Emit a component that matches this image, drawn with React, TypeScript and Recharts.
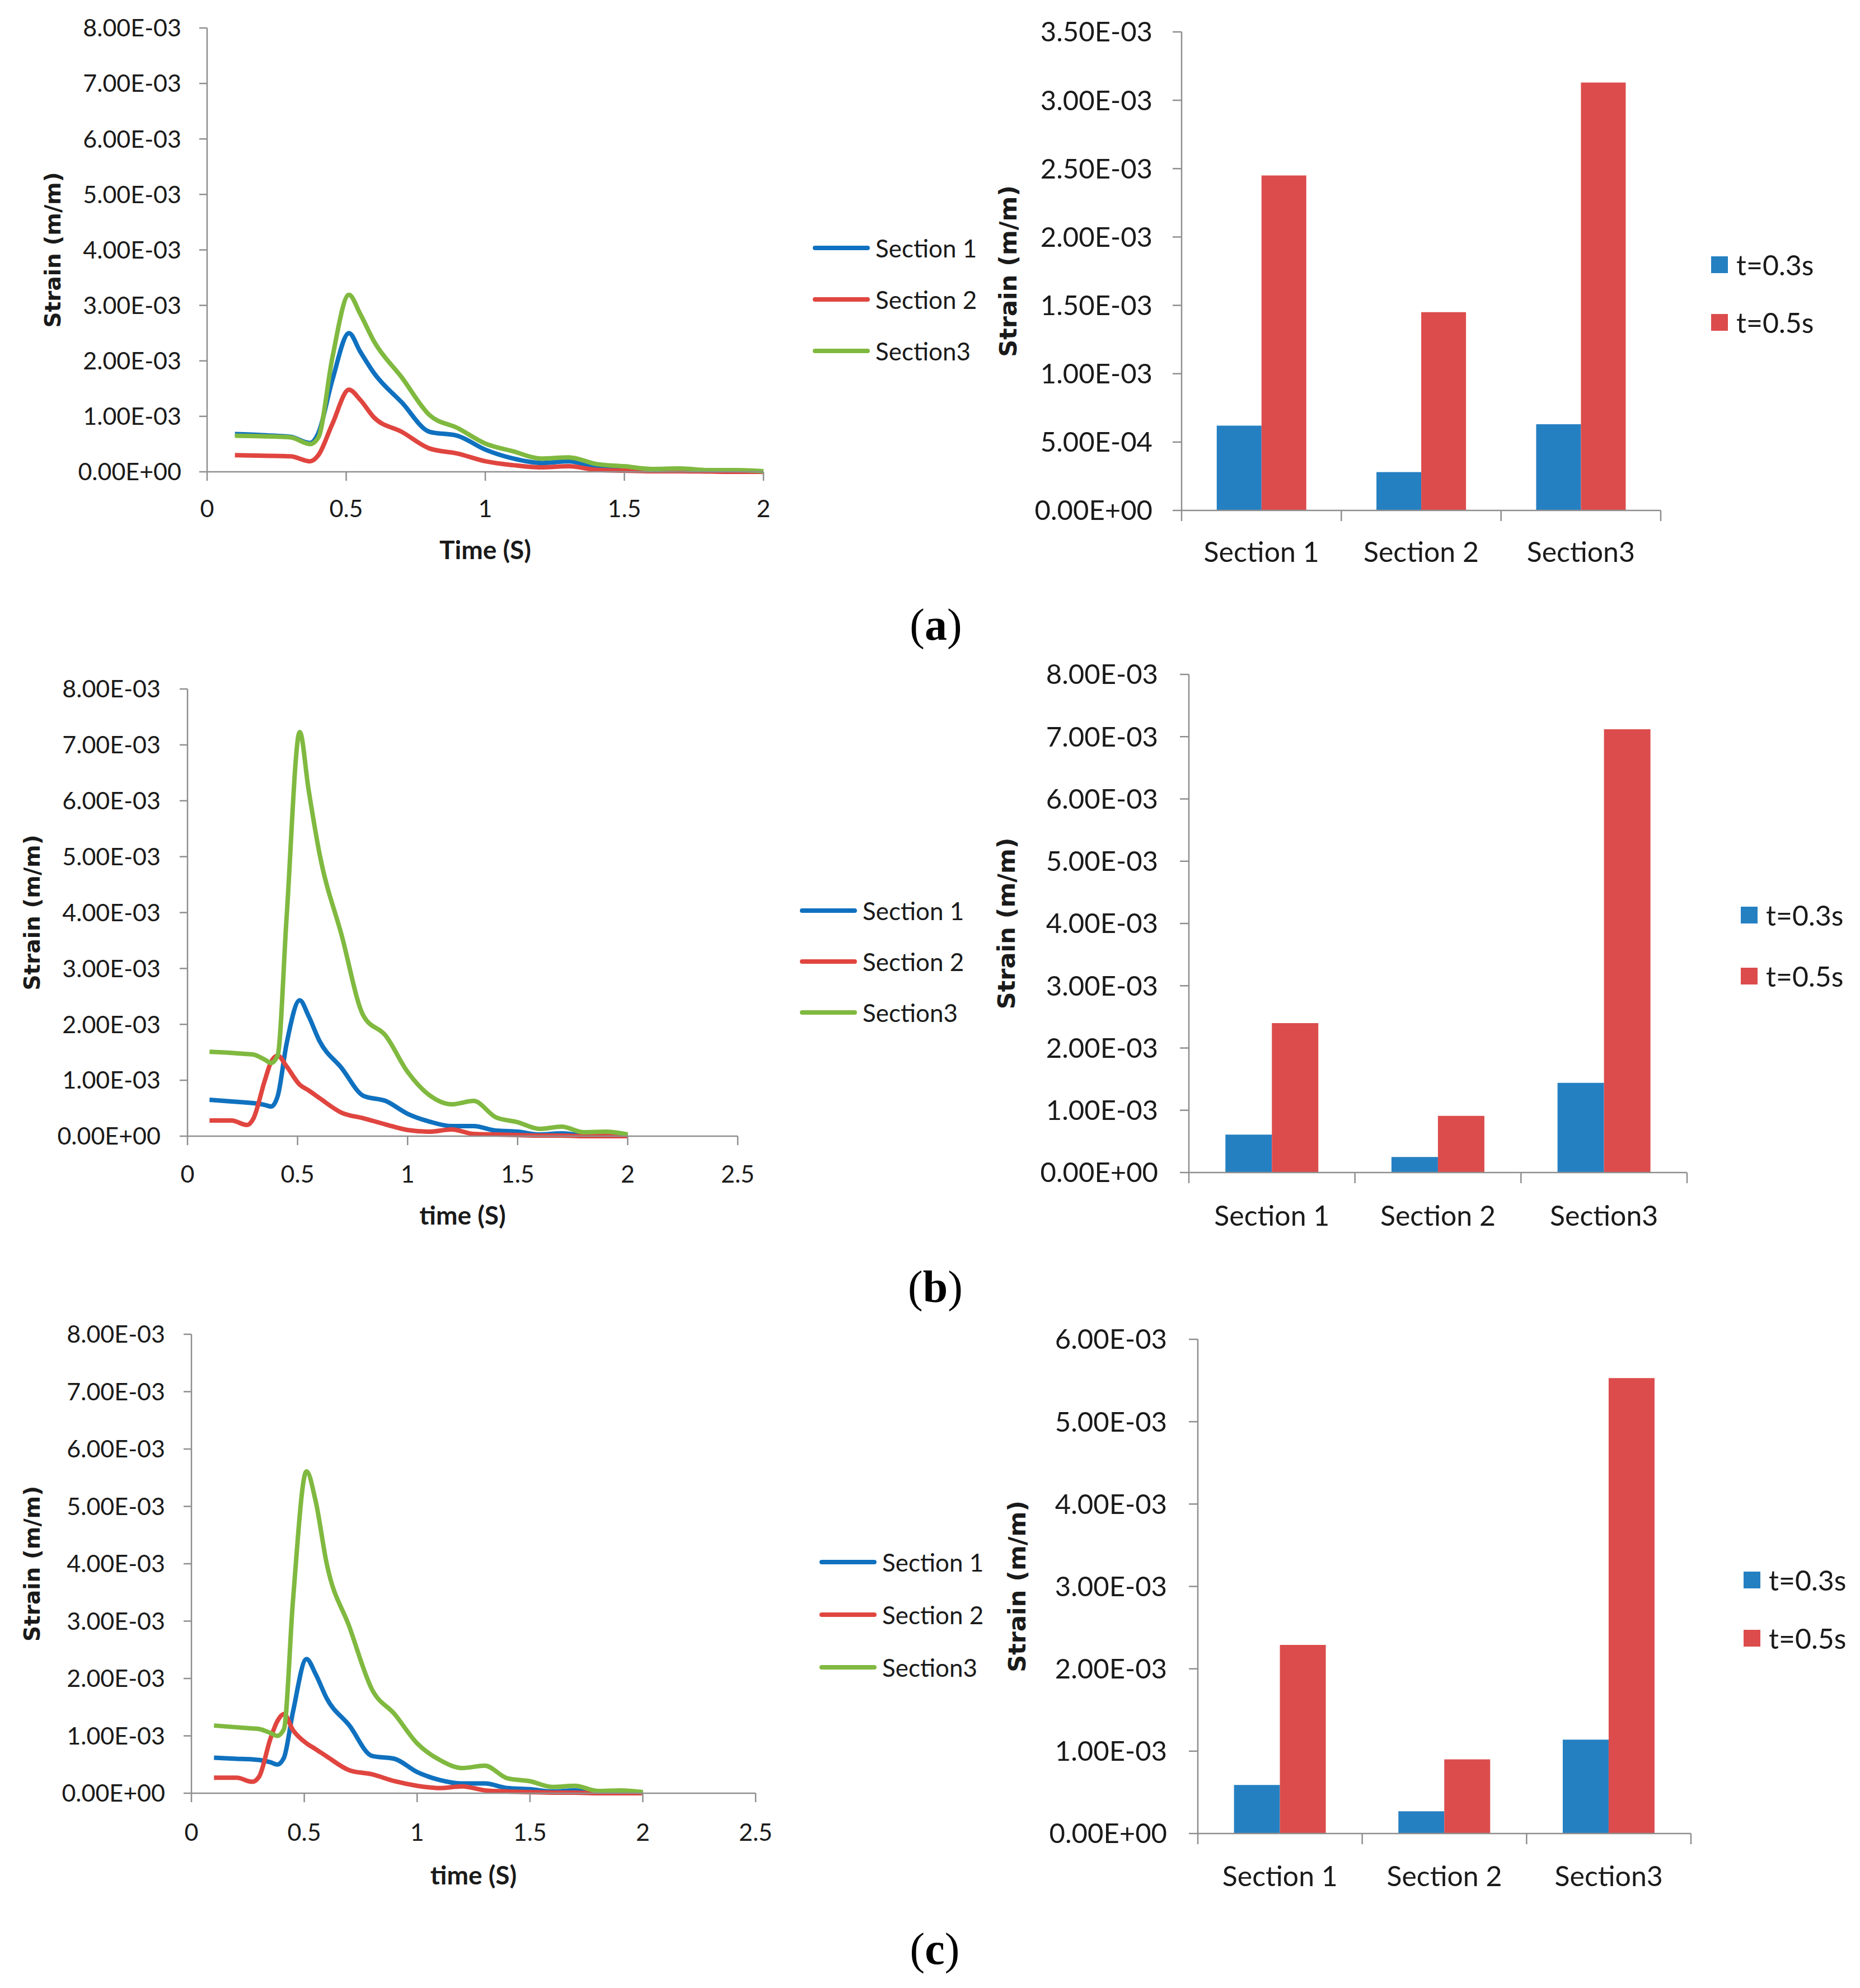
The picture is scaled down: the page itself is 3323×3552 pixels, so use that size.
import React from "react";
import { LineChart, Line, BarChart, Bar, XAxis, YAxis, Legend } from "recharts";

// strain values below are in units of 1e-3 m/m (axis labels convert back)

// (a) time history
const timeA = [0.1, 0.2, 0.3, 0.37, 0.4, 0.45, 0.51, 0.55, 0.6, 0.7, 0.8, 0.9, 1.0, 1.1, 1.2, 1.3, 1.4, 1.5, 1.6, 1.7, 1.8, 1.9, 2.0];
const sec1A = [0.68, 0.66, 0.63, 0.52, 0.7, 1.65, 2.5, 2.17, 1.78, 1.25, 0.72, 0.65, 0.4, 0.24, 0.16, 0.19, 0.08, 0.05, 0.03, 0.03, 0.015, 0.01, 0.01];
const sec2A = [0.3, 0.29, 0.28, 0.19, 0.3, 0.86, 1.48, 1.3, 0.98, 0.72, 0.42, 0.33, 0.19, 0.12, 0.08, 0.1, 0.035, 0.02, 0.01, 0.01, 0.005, 0, 0];
const sec3A = [0.65, 0.64, 0.62, 0.5, 0.62, 2.05, 3.19, 2.85, 2.35, 1.7, 1.02, 0.79, 0.51, 0.37, 0.24, 0.26, 0.14, 0.1, 0.05, 0.06, 0.03, 0.03, 0.01];

// (b) and (c) time histories share the same sampling
const timeBC = [0.1, 0.2, 0.27, 0.3, 0.35, 0.38, 0.41, 0.45, 0.51, 0.55, 0.6, 0.7, 0.8, 0.9, 1.0, 1.1, 1.2, 1.3, 1.4, 1.5, 1.6, 1.7, 1.8, 1.9, 2.0];
const sec1B = [0.65, 0.62, 0.6, 0.59, 0.56, 0.53, 0.72, 1.65, 2.43, 2.15, 1.7, 1.22, 0.72, 0.63, 0.4, 0.26, 0.18, 0.18, 0.1, 0.08, 0.03, 0.05, 0.015, 0.01, 0];
const sec2B = [0.28, 0.28, 0.2, 0.32, 0.98, 1.33, 1.44, 1.25, 0.92, 0.82, 0.68, 0.42, 0.32, 0.21, 0.11, 0.08, 0.12, 0.04, 0.03, 0.02, 0.01, 0.01, 0, 0, 0];
const sec3B = [1.51, 1.49, 1.47, 1.46, 1.37, 1.31, 1.45, 3.9, 7.23, 6.2, 5.05, 3.6, 2.15, 1.8, 1.15, 0.73, 0.57, 0.63, 0.34, 0.25, 0.13, 0.17, 0.07, 0.08, 0.03];

const sec1C = [0.62, 0.6, 0.59, 0.58, 0.54, 0.5, 0.62, 1.42, 2.34, 2.08, 1.65, 1.18, 0.65, 0.6, 0.37, 0.23, 0.17, 0.17, 0.09, 0.07, 0.03, 0.05, 0.015, 0.01, 0.005];
const sec2C = [0.27, 0.27, 0.2, 0.29, 0.95, 1.25, 1.38, 1.1, 0.87, 0.77, 0.64, 0.4, 0.33, 0.21, 0.13, 0.09, 0.12, 0.05, 0.03, 0.02, 0.01, 0.01, 0, 0, 0];
const sec3C = [1.18, 1.15, 1.13, 1.12, 1.05, 1.0, 1.12, 3.36, 5.61, 5.1, 3.99, 2.9, 1.81, 1.38, 0.87, 0.58, 0.44, 0.48, 0.26, 0.21, 0.11, 0.13, 0.04, 0.05, 0.02];

// bar charts
const categories = ["Section 1", "Section 2", "Section3"];
const t03A = [0.62, 0.28, 0.63];
const t05A = [2.45, 1.45, 3.13];
const t03B = [0.61, 0.25, 1.44];
const t05B = [2.4, 0.91, 7.12];
const t03C = [0.59, 0.27, 1.14];
const t05C = [2.29, 0.9, 5.53];

// ticks
const timeTicksA = [0, 0.5, 1, 1.5, 2];
const timeTicksBC = [0, 0.5, 1, 1.5, 2, 2.5];
const strainTicks8 = [0, 1, 2, 3, 4, 5, 6, 7, 8];
const strainTicks35 = [0, 0.5, 1, 1.5, 2, 2.5, 3, 3.5];
const strainTicks6 = [0, 1, 2, 3, 4, 5, 6];

const FONT = "Lato, 'Open Sans', sans-serif";
const TITLE_FONT = "'DejaVu Sans', Verdana, sans-serif";
const TEXT = "#1a1a1a";
const AXIS = "#8e8e8e";
const LINE_BLUE = "#0f71bf";
const LINE_RED = "#e0453f";
const LINE_GREEN = "#80b940";
const BAR_BLUE = "#2580c2";
const BAR_RED = "#dc4c4c";

const LINE_XAXIS_H = 170;
const BAR_XAXIS_H = 110;
const LINE_TICK_FS = 43;
const BAR_TICK_FS = 49;

type Box = { x: number; y: number; w: number; h: number };
type Plot = { l: number; t: number; r: number; b: number };
type LegendPos = { left: number; top: number; row: number };

// 1e-3 units -> "8.00E-03"
const sci = (v: number) => {
  const [m, e] = (v / 1000).toExponential(2).split("e");
  const n = Number(e);
  return `${m}E${n < 0 ? "-" : "+"}${String(Math.abs(n)).padStart(2, "0")}`;
};

const chartMargin = (box: Box, plot: Plot, xAxisH: number) => ({
  top: plot.t - box.y,
  right: box.x + box.w - plot.r,
  bottom: box.y + box.h - plot.b - xAxisH,
  left: 0,
});

function SeriesLegend({ payload, kind, row, fontSize }: any) {
  return (
    <div style={{ fontFamily: FONT, fontSize, color: TEXT }}>
      {(payload || []).map((p: any) => (
        <div key={p.value} style={{ display: "flex", alignItems: "center", height: row, whiteSpace: "nowrap" }}>
          {kind === "line" ? (
            <span style={{ flexShrink: 0, width: 102, height: 8, borderRadius: 4, background: p.color, marginRight: 10 }} />
          ) : (
            <span style={{ flexShrink: 0, width: 30, height: 30, background: p.color, marginRight: 15 }} />
          )}
          <span>{p.value}</span>
        </div>
      ))}
    </div>
  );
}

function CategoryTick(props: any) {
  const { x, y, payload, index, visibleTicksCount, bandHalf, labelGap } = props;
  const half = payload && payload.offset > 0 ? payload.offset : bandHalf;
  return (
    <g>
      <line x1={x - half} y1={y} x2={x - half} y2={y + 19} stroke={AXIS} strokeWidth={2.5} />
      {index === visibleTicksCount - 1 && (
        <line x1={x + half} y1={y} x2={x + half} y2={y + 19} stroke={AXIS} strokeWidth={2.5} />
      )}
      <text x={x} y={y + labelGap} dy="0.36em" textAnchor="middle" fill={TEXT} fontSize={50} fontFamily={FONT}>
        {payload.value}
      </text>
    </g>
  );
}

interface LinePanelProps {
  box: Box;
  plot: Plot;
  time: number[];
  s1: number[];
  s2: number[];
  s3: number[];
  xMax: number;
  xTicks: number[];
  xTitle: string;
  xTitleY: number;
  yTitleX: number;
  yTickMargin: number;
  xTickMargin: number;
  legend: LegendPos;
}

function LinePanel(p: LinePanelProps) {
  const rows = p.time.map((t, i) => ({ t, s1: p.s1[i], s2: p.s2[i], s3: p.s3[i] }));
  return (
    <div style={{ position: "absolute", left: p.box.x, top: p.box.y }}>
      <LineChart width={p.box.w} height={p.box.h} data={rows} margin={chartMargin(p.box, p.plot, LINE_XAXIS_H)}>
        <XAxis
          dataKey="t"
          type="number"
          domain={[0, p.xMax]}
          ticks={p.xTicks}
          interval={0}
          height={LINE_XAXIS_H}
          axisLine={{ stroke: AXIS, strokeWidth: 2.5 }}
          tickLine={{ stroke: AXIS, strokeWidth: 2.5 }}
          tickSize={16}
          tickMargin={p.xTickMargin}
          tick={{ fill: TEXT, fontSize: LINE_TICK_FS, fontFamily: FONT }}
          label={{
            value: p.xTitle,
            position: "insideTop",
            offset: p.xTitleY - p.plot.b - 16,
            style: { fill: TEXT, fontSize: 46, fontWeight: 700, fontFamily: FONT, textAnchor: "middle" },
          }}
        />
        <YAxis
          type="number"
          domain={[0, 8]}
          ticks={strainTicks8}
          interval={0}
          width={p.plot.l - p.box.x}
          axisLine={{ stroke: AXIS, strokeWidth: 2.5 }}
          tickLine={{ stroke: AXIS, strokeWidth: 2.5 }}
          tickSize={14}
          tickMargin={p.yTickMargin}
          tickFormatter={sci}
          tick={{ fill: TEXT, fontSize: LINE_TICK_FS, fontFamily: FONT }}
          label={{
            value: "Strain (m/m)",
            angle: -90,
            position: "insideLeft",
            offset: p.yTitleX - p.box.x,
            style: { fill: TEXT, fontSize: 39, fontWeight: 700, fontFamily: TITLE_FONT, textAnchor: "middle" },
          }}
        />
        <Legend
          layout="vertical"
          align="center"
          verticalAlign="middle"
          wrapperStyle={{ left: p.legend.left - p.box.x, top: p.legend.top - p.box.y, width: 340, height: "auto" }}
          content={(lp: any) => <SeriesLegend {...lp} kind="line" row={p.legend.row} fontSize={44} />}
        />
        <Line type="monotone" dataKey="s1" name="Section 1" stroke={LINE_BLUE} strokeWidth={8} dot={false} activeDot={false} isAnimationActive={false} />
        <Line type="monotone" dataKey="s2" name="Section 2" stroke={LINE_RED} strokeWidth={8} dot={false} activeDot={false} isAnimationActive={false} />
        <Line type="monotone" dataKey="s3" name="Section3" stroke={LINE_GREEN} strokeWidth={8} dot={false} activeDot={false} isAnimationActive={false} />
      </LineChart>
    </div>
  );
}

interface BarPanelProps {
  box: Box;
  plot: Plot;
  early: number[];
  late: number[];
  yMax: number;
  yTicks: number[];
  yTitleX: number;
  yTickMargin: number;
  labelGap: number;
  legend: LegendPos;
}

function BarPanel(p: BarPanelProps) {
  const rows = categories.map((name, i) => ({ name, early: p.early[i], late: p.late[i] }));
  return (
    <div style={{ position: "absolute", left: p.box.x, top: p.box.y }}>
      <BarChart
        width={p.box.w}
        height={p.box.h}
        data={rows}
        margin={chartMargin(p.box, p.plot, BAR_XAXIS_H)}
        barCategoryGap="22%"
        barGap={0}
      >
        <XAxis
          dataKey="name"
          interval={0}
          height={BAR_XAXIS_H}
          axisLine={{ stroke: AXIS, strokeWidth: 2.5 }}
          tickLine={false}
          tickSize={0}
          tickMargin={0}
          tick={<CategoryTick bandHalf={(p.plot.r - p.plot.l) / (2 * categories.length)} labelGap={p.labelGap} />}
        />
        <YAxis
          type="number"
          domain={[0, p.yMax]}
          ticks={p.yTicks}
          interval={0}
          width={p.plot.l - p.box.x}
          axisLine={{ stroke: AXIS, strokeWidth: 2.5 }}
          tickLine={{ stroke: AXIS, strokeWidth: 2.5 }}
          tickSize={16}
          tickMargin={p.yTickMargin}
          tickFormatter={sci}
          tick={{ fill: TEXT, fontSize: BAR_TICK_FS, fontFamily: FONT }}
          label={{
            value: "Strain (m/m)",
            angle: -90,
            position: "insideLeft",
            offset: p.yTitleX - p.box.x,
            style: { fill: TEXT, fontSize: 43, fontWeight: 700, fontFamily: TITLE_FONT, textAnchor: "middle" },
          }}
        />
        <Legend
          layout="vertical"
          align="center"
          verticalAlign="middle"
          wrapperStyle={{ left: p.legend.left - p.box.x, top: p.legend.top - p.box.y, width: 240, height: "auto" }}
          content={(lp: any) => <SeriesLegend {...lp} kind="bar" row={p.legend.row} fontSize={50} />}
        />
        <Bar dataKey="early" name="t=0.3s" fill={BAR_BLUE} isAnimationActive={false} />
        <Bar dataKey="late" name="t=0.5s" fill={BAR_RED} isAnimationActive={false} />
      </BarChart>
    </div>
  );
}

function PanelTag({ letter, cx, cy }: { letter: string; cx: number; cy: number }) {
  return (
    <div
      style={{
        position: "absolute",
        left: cx,
        top: cy - 48,
        transform: "translateX(-50%)",
        fontFamily: "'Liberation Serif', 'Times New Roman', serif",
        fontSize: 80,
        lineHeight: 1,
        color: "#000",
        whiteSpace: "nowrap",
      }}
    >
      (<b>{letter}</b>)
    </div>
  );
}

export default function App() {
  return (
    <div style={{ position: "absolute", left: 0, top: 0, width: 3323, height: 3552, background: "#fff" }}>
      <LinePanel
        box={{ x: 0, y: 0, w: 1760, h: 1080 }}
        plot={{ l: 370, t: 50, r: 1364, b: 843 }}
        time={timeA}
        s1={sec1A}
        s2={sec2A}
        s3={sec3A}
        xMax={2}
        xTicks={timeTicksA}
        xTitle="Time (S)"
        xTitleY={982}
        yTitleX={94}
        yTickMargin={32}
        xTickMargin={34}
        legend={{ left: 1452, top: 397, row: 92 }}
      />
      <BarPanel
        box={{ x: 1760, y: 0, w: 1563, h: 1080 }}
        plot={{ l: 2111, t: 57, r: 2967, b: 912 }}
        early={t03A}
        late={t05A}
        yMax={3.5}
        yTicks={strainTicks35}
        yTitleX={1801}
        yTickMargin={36}
        labelGap={74}
        legend={{ left: 3057, top: 421, row: 103 }}
      />
      <PanelTag letter="a" cx={1672} cy={1124} />

      <LinePanel
        box={{ x: 0, y: 1160, w: 1760, h: 1080 }}
        plot={{ l: 335, t: 1231, r: 1318, b: 2030 }}
        time={timeBC}
        s1={sec1B}
        s2={sec2B}
        s3={sec3B}
        xMax={2.5}
        xTicks={timeTicksBC}
        xTitle="time (S)"
        xTitleY={2171}
        yTitleX={57}
        yTickMargin={34}
        xTickMargin={36}
        legend={{ left: 1429, top: 1581, row: 91 }}
      />
      <BarPanel
        box={{ x: 1760, y: 1160, w: 1563, h: 1080 }}
        plot={{ l: 2124, t: 1205, r: 3014, b: 2095 }}
        early={t03B}
        late={t05B}
        yMax={8}
        yTicks={strainTicks8}
        yTitleX={1798}
        yTickMargin={39}
        labelGap={77}
        legend={{ left: 3110, top: 1580, row: 109 }}
      />
      <PanelTag letter="b" cx={1671} cy={2307} />

      <LinePanel
        box={{ x: 0, y: 2320, w: 1760, h: 1100 }}
        plot={{ l: 342, t: 2384, r: 1350, b: 3204 }}
        time={timeBC}
        s1={sec1C}
        s2={sec2C}
        s3={sec3C}
        xMax={2.5}
        xTicks={timeTicksBC}
        xTitle="time (S)"
        xTitleY={3350}
        yTitleX={57}
        yTickMargin={33}
        xTickMargin={38}
        legend={{ left: 1464, top: 2744, row: 94 }}
      />
      <BarPanel
        box={{ x: 1760, y: 2320, w: 1563, h: 1100 }}
        plot={{ l: 2140, t: 2393, r: 3021, b: 3276 }}
        early={t03C}
        late={t05C}
        yMax={6}
        yTicks={strainTicks6}
        yTitleX={1817}
        yTickMargin={39}
        labelGap={76}
        legend={{ left: 3115, top: 2771, row: 104 }}
      />
      <PanelTag letter="c" cx={1670} cy={3490} />
    </div>
  );
}
